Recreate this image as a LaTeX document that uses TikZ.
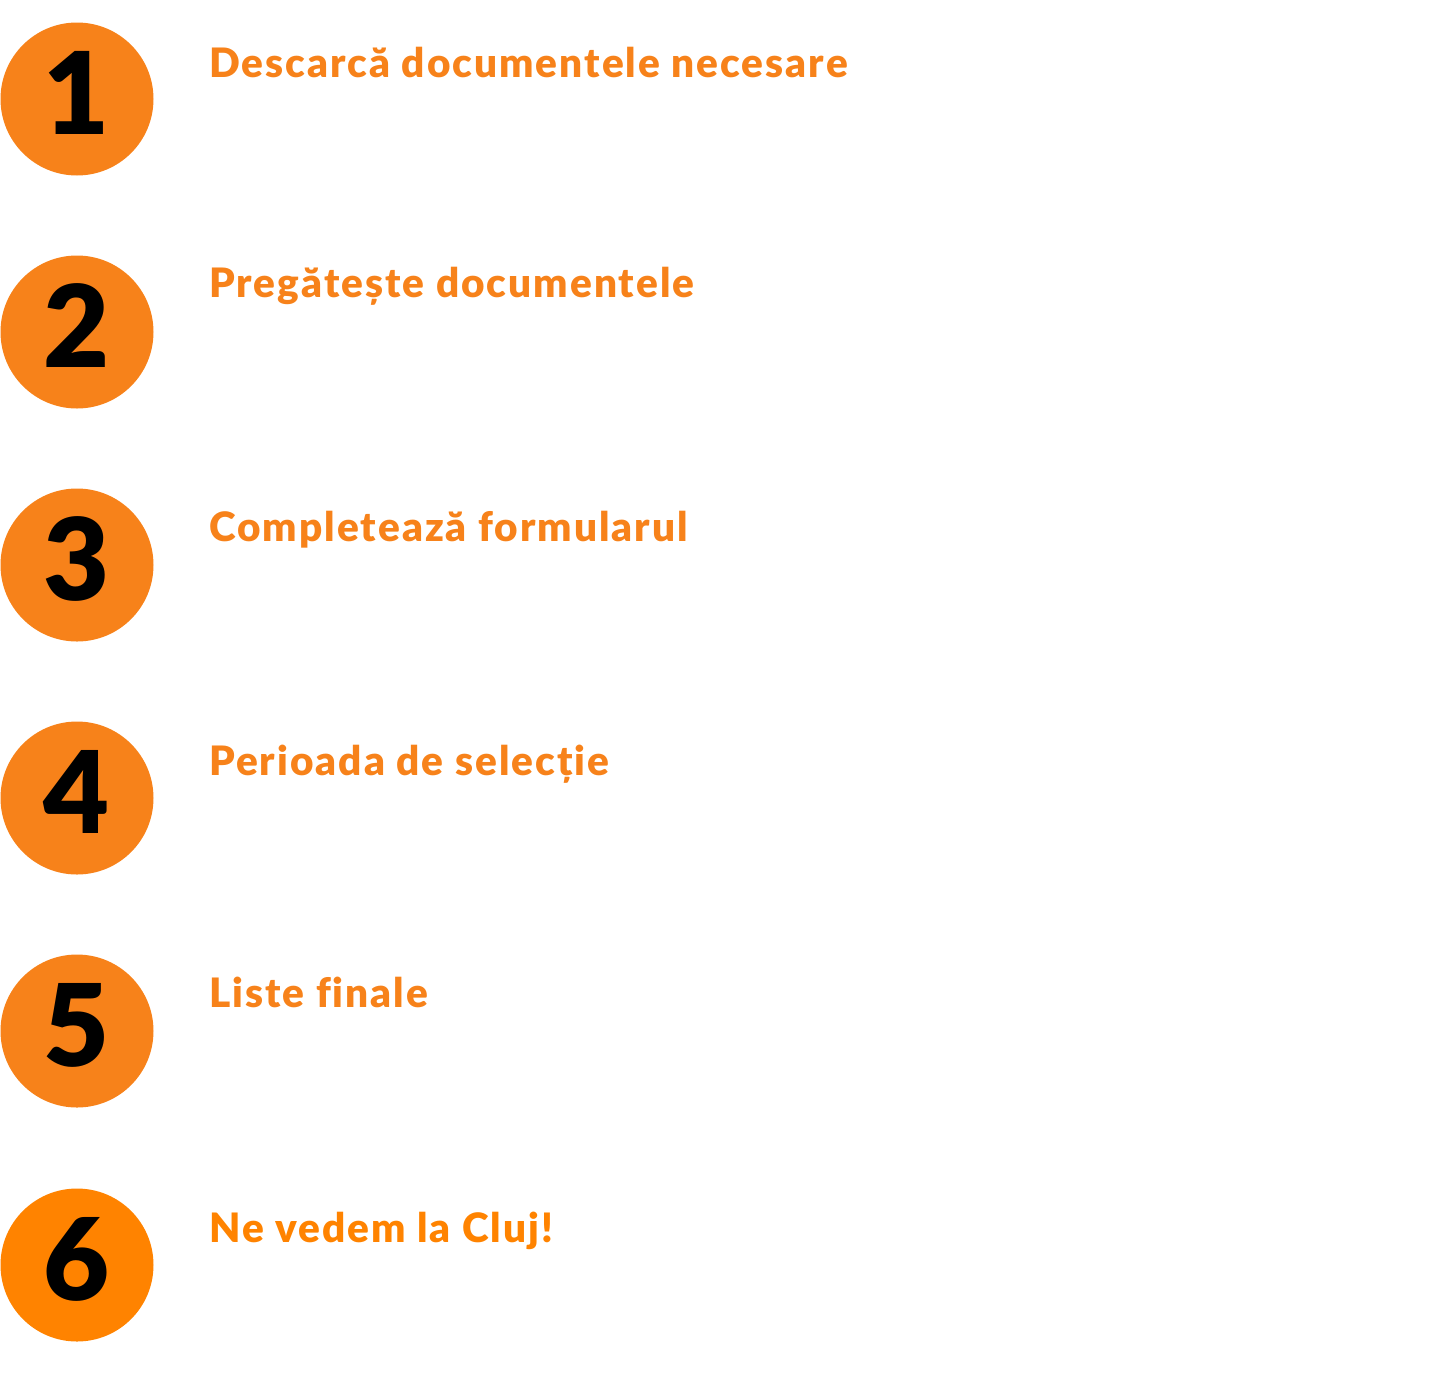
\documentclass[tikz,border=0pt]{standalone}
\usepackage{fontspec}
\setmainfont{Lato}
\newfontfamily\numfont{Lato Black}
\newfontfamily\ttlfont{Lato Black}[LetterSpace=5,Ligatures=NoCommon]
\definecolor{orA}{HTML}{F7821A}
\definecolor{orB}{HTML}{FF8300}
\begin{document}
\begin{tikzpicture}[x=1pt,y=-1pt,
  circ/.style={circle,fill=orA,draw=none,minimum size=153pt,inner sep=0pt},
  num/.style={anchor=base,inner sep=0pt,font=\numfont\fontsize{114}{114}\selectfont,text=black},
  ttl/.style={anchor=base west,inner sep=0pt,font=\ttlfont\fontsize{40.5}{48}\selectfont,text=orA}]
\useasboundingbox (0,0) rectangle (1431,1374);
\node[circ] (c1) at (77,99) {};
\node[circ] (c2) at (77,332) {};
\node[circ] (c3) at (77,565) {};
\node[circ] (c4) at (77,798) {};
\node[circ] (c5) at (77,1031) {};
\node[circ,fill=orB] (c6) at (77,1265) {};
\node[num] (n1) at (77,134) {1};
\node[num] (n2) at (77,367) {2};
\node[num] (n3) at (77,600) {3};
\node[num] (n4) at (77,833) {4};
\node[num] (n5) at (77,1066) {5};
\node[num] (n6) at (77,1300) {6};
\node[ttl] (t1) at (209,77) {Descarcă documentele necesare};
\node[ttl] (t2) at (209,297) {Pregătește documentele};
\node[ttl] (t3) at (209,541) {Completează formularul};
\node[ttl] (t4) at (209,775) {Perioada de selecție};
\node[ttl] (t5) at (209,1007) {Liste finale};
\node[ttl,text=orB] (t6) at (209,1242) {Ne vedem la Cluj!};
\end{tikzpicture}
\end{document}
